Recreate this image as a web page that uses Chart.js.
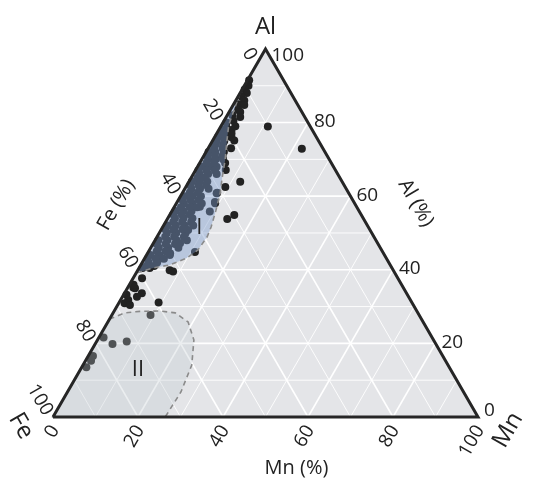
<!DOCTYPE html>
<html><head><meta charset="utf-8">
<script src="https://cdn.jsdelivr.net/npm/chart.js@4.4.0/dist/chart.umd.min.js"></script>
<style>html,body{margin:0;padding:0;background:#fff;}canvas{display:block}</style>
</head><body>
<canvas id="c" width="540" height="489"></canvas>
<script>
// ---- data (ternary percentages: Al, Mn; Fe = 100 - Al - Mn) ----
const vertexLabels = ['Fe', 'Mn', 'Al'];
const axisTitles = ['Fe (%)', 'Mn (%)', 'Al (%)'];
const tickValues = [0, 20, 40, 60, 80, 100];
const tickLabels = ['0', '20', '40', '60', '80', '100'];
const gridMajor = [20, 40, 60, 80];
const gridMinor = [10, 30, 50, 70, 90];

const ptAl = [
  91.5, 90, 89, 88, 87, 86, 85, 84.8, 83.5, 82.9, 82, 81.5, 80.5, 80, 79, 78.5, 77.2, 76.5,
  78.9, 72.9,
  75.1, 73, 69, 67.1, 62.5, 63.9, 53.8, 54.9, 44.8,
  60.9, 58.4, 57.1, 55.8, 58.1, 60.8, 50.8, 50.8, 47.2, 43.1, 44.5, 68,
  78, 78, 76, 76, 76, 74, 74, 72, 72, 72, 70, 70, 70, 68, 68, 68, 66, 66, 66,
  64, 64, 64, 62, 62, 62, 60, 60, 60, 58, 58, 58, 56, 56, 56, 54, 54, 54,
  52, 52, 52, 52, 50, 50, 50, 48, 48, 48, 48, 46, 46, 46, 44, 44, 44, 42, 42, 40.5, 40.5,
  77, 77, 75, 75, 73, 73, 71, 71, 71, 69, 69, 67, 67, 67, 65, 65, 63, 63, 63, 61, 61,
  59, 59, 59, 57, 57, 57, 55, 55, 55, 53, 53, 53, 51, 51, 51, 49, 49, 49, 47, 47, 47,
  45, 45, 43, 43, 43, 41, 41,
  39.9, 39.5, 37.7, 35.2, 35.0, 33.6, 32.7, 31.8, 30.9, 30.4, 35.9, 33.2, 31.1,
  27.7, 20.5, 19.8, 21.6, 16.6, 15.3, 13.5
];
const ptMn = [
  0.4, 1.0, 0.6, 1.6, 0.9, 2.0, 1.2, 2.6, 1.8, 2.6, 1.2, 3.3, 2.2, 0.8, 3.4, 1.6, 2.8, 0.9,
  11.1, 22.1,
  5.1, 5.4, 6.0, 7.1, 9.3, 12.1, 14.1, 15.2, 11.0,
  8.2, 8.9, 6.0, 9.0, 9.1, 8.1, 6.4, 2.9, 6.3, 4.0, 5.3, 2.9,
  1.0, 3.0, 0.8, 2.5, 4.0, 1.2, 3.0, 0.6, 2.2, 4.2, 1.5, 3.3, 5.0, 0.8, 2.5, 4.5, 1.5, 3.5, 5.5,
  0.7, 2.5, 4.3, 1.6, 3.6, 5.6, 0.9, 2.8, 4.8, 1.8, 3.8, 6.0, 0.8, 2.7, 4.6, 1.7, 3.7, 5.8,
  0.9, 2.9, 5.0, 7.0, 1.8, 4.0, 6.2, 0.8, 2.9, 5.1, 7.5, 1.9, 4.1, 6.5, 0.9, 3.0, 5.5, 1.5, 3.5, 0.8, 2.5,
  1.8, 3.5, 1.0, 2.8, 1.4, 3.4, 0.8, 2.6, 4.4, 1.6, 3.4, 0.7, 2.6, 4.6, 1.5, 3.2, 0.8, 2.7, 4.5, 1.7, 3.6,
  0.9, 2.8, 4.8, 1.6, 3.7, 5.4, 0.8, 2.8, 4.7, 1.8, 3.9, 6.0, 0.9, 3.0, 5.0, 1.9, 4.0, 6.3, 0.9, 3.0, 5.2,
  1.9, 4.0, 0.8, 2.7, 4.6, 1.5, 3.3,
  7.5, 8.5, 2.1, 1.3, 1.8, 4.1, 3.4, 1.8, 1.4, 2.9, 1.0, 0.7, 9.3,
  9.1, 7.1, 4.1, 1.1, 1.1, 1.3, 1.1
];

// region outlines (ternary %, closed)
const regionIAl = [88, 79.3, 75.3, 69.8, 65, 60.9, 56, 51.6, 48.9, 45.4, 43.2, 41.3, 40.5, 39.4, 39.2, 88];
const regionIMn = [0, 1.7, 3.3, 5.6, 7.3, 8.9, 10.3, 11.4, 11.8, 11.4, 9.9, 6.8, 3.3, 0.8, 0, 0];
const regionIIAl = [26.6, 28.3, 28.7, 28.8, 28.3, 25.8, 20.9, 14.1, 6.8, 0, 0, 26.6];
const regionIIMn = [0, 2.8, 6.1, 10.8, 14.6, 18.9, 22.7, 25.6, 26.7, 26.4, 0, 0];
const regionNames = ['I', 'II'];

// ---- helpers ----
const H = Math.sqrt(3) / 2;
function toXY(al, mn) { return { x: (mn + al / 2) / 100, y: al * H / 100 }; }
function series(als, mns) { return als.map((a, i) => toXY(a, mns[i])); }

const datasets = [];
// triangle background
datasets.push({
  data: series([0, 0, 100, 0], [0, 100, 0, 0]), showLine: true, fill: 'shape',
  backgroundColor: '#e4e5e8', borderWidth: 0, pointRadius: 0, order: 100
});
// grid lines
function gridLine(v, w) {
  const lines = [
    [[v, 0], [v, 100 - v]],            // constant Al
    [[0, v], [100 - v, v]],            // constant Mn
    [[0, 100 - v], [100 - v, 0]]       // constant Fe (= v)
  ];
  lines.forEach(l => datasets.push({
    data: [toXY(l[0][0], l[0][1]), toXY(l[1][0], l[1][1])], showLine: true,
    borderColor: '#ffffff', borderWidth: w, pointRadius: 0, fill: false, order: 90
  }));
}
gridMinor.forEach(v => gridLine(v, 0.9));
gridMajor.forEach(v => gridLine(v, 1.6));
// points
datasets.push({
  data: series(ptAl, ptMn), showLine: false, pointRadius: 4, pointHoverRadius: 4,
  pointBackgroundColor: '#222222', pointBorderWidth: 0, order: 50
});
// region fills
datasets.push({
  data: series(regionIAl, regionIMn), showLine: true, fill: 'shape',
  backgroundColor: 'rgba(125,155,205,0.42)', borderWidth: 0, pointRadius: 0, order: 40
});
datasets.push({
  data: series(regionIIAl, regionIIMn), showLine: true, fill: 'shape',
  backgroundColor: 'rgba(190,198,205,0.30)', borderWidth: 0, pointRadius: 0, order: 40
});
// dashed outlines
[[regionIAl, regionIMn], [regionIIAl, regionIIMn]].forEach(r => datasets.push({
  data: series(r[0], r[1]), showLine: true, fill: false, borderColor: '#8a8a8a',
  borderWidth: 1.6, borderDash: [5, 4], pointRadius: 0, order: 30
}));
// triangle edges
datasets.push({
  data: series([0, 0, 100, 0], [0, 100, 0, 0]), showLine: true, fill: false,
  borderColor: '#262626', borderWidth: 3, borderJoinStyle: 'miter', pointRadius: 0, order: 10
});

const labelPlugin = {
  id: 'ternaryLabels',
  afterDatasetsDraw(chart) {
    const ctx = chart.ctx, sx = chart.scales.x, sy = chart.scales.y;
    const P = (al, mn) => { const q = toXY(al, mn); return { x: sx.getPixelForValue(q.x), y: sy.getPixelForValue(q.y) }; };
    const F = 'Open Sans, "DejaVu Sans", sans-serif';
    function txt(s, x, y, rot, align, base, size) {
      ctx.save(); ctx.translate(x, y); ctx.rotate(rot);
      ctx.textAlign = align; ctx.textBaseline = base; ctx.font = size + 'px ' + F;
      ctx.fillStyle = '#222'; ctx.fillText(s, 0, 0); ctx.restore();
    }
    const R = Math.PI / 3;
    tickValues.forEach((v, i) => {
      const s = tickLabels[i];
      // Mn axis (bottom)
      let p = P(0, v);
      txt(s, p.x + 2, p.y + 10, -R, 'right', 'middle', 19);
      // Al axis (right)
      p = P(v, 100 - v);
      let dy = v === 100 ? 6.5 : (v === 0 ? -6.5 : -1);
      txt(s, p.x + 6, p.y + dy, 0, 'left', 'middle', 19);
      // Fe axis (left)
      p = P(100 - v, 0);
      if (v === 0) txt(s, p.x - 13.5, p.y + 10, R, 'right', 'middle', 19);
      else txt(s, p.x - 5, p.y - 3, R, 'right', 'middle', 19);
    });
    // axis titles
    let m = P(50, 0);
    txt(axisTitles[0], m.x - 43, m.y - 28, -R, 'center', 'middle', 20);
    m = P(0, 50);
    txt(axisTitles[1], m.x + 31, m.y + 51, 0, 'center', 'middle', 20);
    m = P(50, 50);
    txt(axisTitles[2], m.x + 44, m.y - 30, R, 'center', 'middle', 20);
    // vertex labels
    let v = P(0, 0);
    txt(vertexLabels[0], v.x - 32, v.y + 9, R, 'center', 'middle', 24);
    v = P(0, 100);
    txt(vertexLabels[1], v.x + 30, v.y + 13, -R, 'center', 'middle', 24);
    v = P(100, 0);
    txt(vertexLabels[2], v.x, v.y - 22, 0, 'center', 'middle', 24);
    // region names
    const a = P(51.4, 8.7);
    txt(regionNames[0], a.x, a.y, 0, 'center', 'middle', 22);
    const b = P(12.8, 13.6);
    txt(regionNames[1], b.x, b.y, 0, 'center', 'middle', 22);
  }
};

const X0 = 53, Y0 = 417, S = 425;
new Chart(document.getElementById('c'), {
  type: 'scatter',
  data: { datasets },
  options: {
    responsive: false, animation: false,
    layout: { padding: 0, autoPadding: false },
    plugins: { legend: { display: false }, tooltip: { enabled: false } },
    scales: {
      x: { type: 'linear', display: false, min: -X0 / S, max: (540 - X0) / S },
      y: { type: 'linear', display: false, min: (Y0 - 489) / S, max: Y0 / S }
    }
  },
  plugins: [labelPlugin]
});
</script>
</body></html>
